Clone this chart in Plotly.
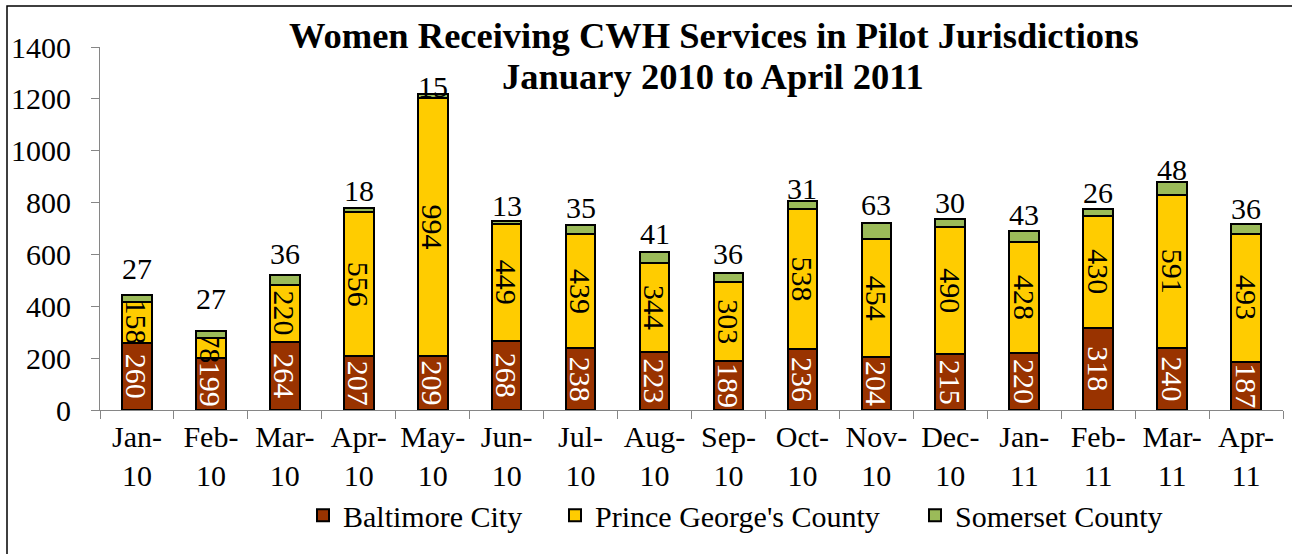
import plotly.graph_objects as go

months = ["Jan-<br>10", "Feb-<br>10", "Mar-<br>10", "Apr-<br>10", "May-<br>10", "Jun-<br>10",
          "Jul-<br>10", "Aug-<br>10", "Sep-<br>10", "Oct-<br>10", "Nov-<br>10", "Dec-<br>10",
          "Jan-<br>11", "Feb-<br>11", "Mar-<br>11", "Apr-<br>11"]
baltimore = [260, 199, 264, 207, 209, 268, 238, 223, 189, 236, 204, 215, 220, 318, 240, 187]
prince_georges = [158, 78, 220, 556, 994, 449, 439, 344, 303, 538, 454, 490, 428, 430, 591, 493]
somerset = [27, 27, 36, 18, 15, 13, 35, 41, 36, 31, 63, 30, 43, 26, 48, 36]
totals = [b + p + s for b, p, s in zip(baltimore, prince_georges, somerset)]
title_lines = ["Women Receiving CWH Services in Pilot Jurisdictions", "January 2010 to April 2011"]

# style: pixel lift of each Somerset label above its bar top
label_lift_px = [26, 33, 22, 17, 8, 15, 18, 19, 20, 13, 19, 17, 16, 17, 13, 16]
# style: left pixel of each legend entry
legend_left_px = [303, 555, 915]

FONT = "Liberation Serif"
FS = 30
line = dict(color="black", width=2)

fig = go.Figure()
fig.add_trace(go.Bar(x=months, y=baltimore, name="Baltimore City", legend="legend",
                     showlegend=True,
                     marker=dict(color="#993300", line=line),
                     text=baltimore, textposition="inside", textangle=90,
                     insidetextanchor="middle", constraintext="none",
                     textfont=dict(family=FONT, size=FS, color="white")))
fig.add_trace(go.Bar(x=months, y=prince_georges, name="Prince George's County", legend="legend2",
                     showlegend=True,
                     marker=dict(color="#FFCC00", line=line),
                     text=prince_georges, textposition="inside", textangle=90,
                     insidetextanchor="middle", constraintext="none",
                     textfont=dict(family=FONT, size=FS, color="black")))
fig.add_trace(go.Bar(x=months, y=somerset, name="Somerset County", legend="legend3",
                     showlegend=True,
                     marker=dict(color="#9BBB59", line=line)))

annotations = []
for m, tot, s, lift in zip(months, totals, somerset, label_lift_px):
    annotations.append(dict(x=m, y=tot, text=str(s), showarrow=False, yshift=lift,
                            xanchor="center", yanchor="middle",
                            font=dict(family=FONT, size=FS, color="black")))
annotations.append(dict(text="<b>%s</b>" % title_lines[0], xref="paper", yref="paper",
                        x=(714 - 100) / 1183, y=(410 - 35) / 363, xanchor="center", yanchor="middle",
                        showarrow=False, font=dict(family=FONT, size=36.5, color="black")))
annotations.append(dict(text="<b>%s</b>" % title_lines[1], xref="paper", yref="paper",
                        x=(713 - 100) / 1183, y=(410 - 77) / 363, xanchor="center", yanchor="middle",
                        showarrow=False, font=dict(family=FONT, size=36.5, color="black")))

def legend_at(px):
    return dict(orientation="h", x=(px - 100) / 1183, xanchor="left", y=-0.29, yanchor="middle",
                font=dict(family=FONT, size=FS), itemwidth=30, bgcolor="rgba(0,0,0,0)",
                visible=True)

fig.update_layout(
    width=1292, height=554,
    showlegend=True,
    barmode="stack", bargap=0.6,
    plot_bgcolor="white", paper_bgcolor="white",
    margin=dict(l=100, r=9, t=47, b=144),
    font=dict(family=FONT, size=FS, color="black"),
    legend=legend_at(legend_left_px[0]),
    legend2=legend_at(legend_left_px[1]),
    legend3=legend_at(legend_left_px[2]),
    xaxis=dict(type="category", range=[-0.5, 15.5], showline=True, linecolor="#868686", linewidth=1,
               ticks="outside", ticklen=8, tickcolor="#868686", tickson="boundaries",
               showgrid=False, tickfont=dict(family=FONT, size=FS), tickangle=0),
    yaxis=dict(range=[0, 1400], dtick=200, showline=True, linecolor="#868686", linewidth=1,
               ticks="outside", ticklen=8, tickcolor="#868686", showgrid=False, zeroline=False,
               tickfont=dict(family=FONT, size=FS), ticklabelstandoff=14),
    annotations=annotations,
    shapes=[dict(type="rect", xref="paper", yref="paper",
                 x0=(7 - 100) / 1183, x1=(1300 - 100) / 1183,
                 y0=(410 - 560) / 363, y1=(410 - 6) / 363,
                 line=dict(color="black", width=1.5), fillcolor="rgba(0,0,0,0)", layer="below")],
)

fig.write_html("out.html", config={"displayModeBar": False},
               post_script="document.body.style.margin='0px';")
